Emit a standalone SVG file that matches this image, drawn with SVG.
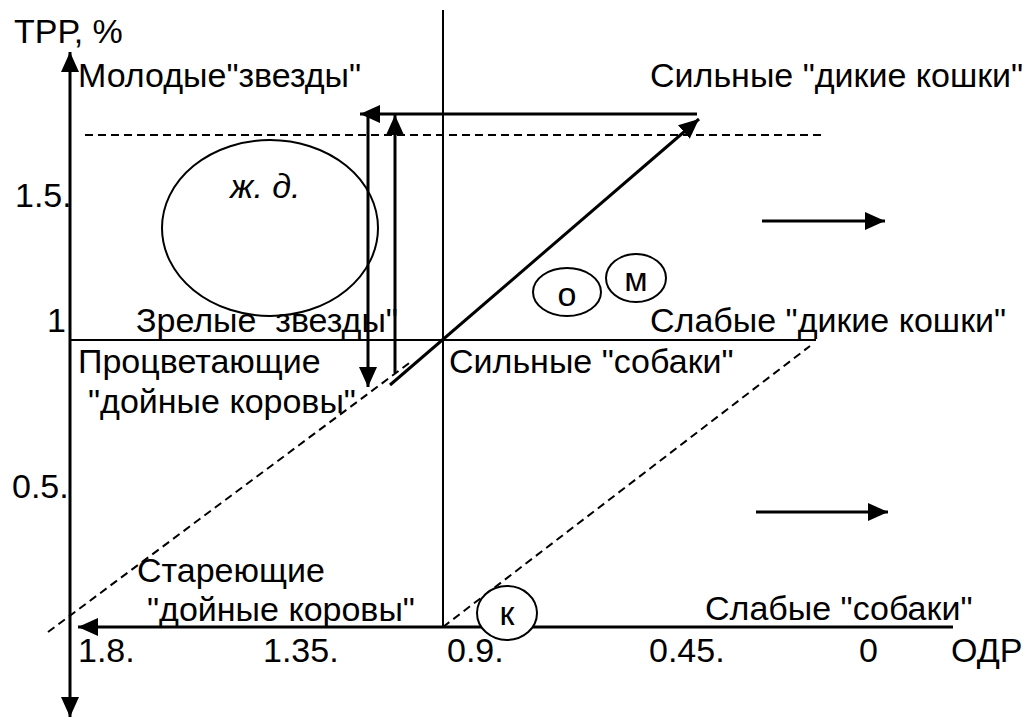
<svg xmlns="http://www.w3.org/2000/svg" width="1029" height="718" viewBox="0 0 1029 718">
<defs>
<style>
text{font-family:"Liberation Sans",Arial,sans-serif;font-size:34px;fill:#000}
.it{font-style:italic}
.mid{text-anchor:middle}
.ln{stroke:#000;fill:none}
.ax{stroke-width:3}
.thin{stroke-width:2}
.dash{stroke-width:2;stroke-dasharray:8 5}
.arr{stroke-width:3;marker-end:url(#ah)}
.ell{fill:#fff;stroke:#000;stroke-width:2}
</style>
<marker id="ah" viewBox="0 0 20 18" refX="20" refY="9" markerWidth="20" markerHeight="18" markerUnits="userSpaceOnUse" orient="auto">
<path d="M0,0 L20,9 L0,18 Z" fill="#000"/>
</marker>
</defs>
<rect width="1029" height="718" fill="#fff"/>
<g id="connectors">
<line class="ln dash" x1="85" y1="135" x2="822" y2="135"/>
<line class="ln dash" x1="48" y1="632" x2="412" y2="361"/>
<line class="ln dash" x1="443" y1="627" x2="810" y2="346"/>
<line class="ln thin" x1="443" y1="10" x2="443" y2="627"/>
<line class="ln thin" x1="70" y1="340" x2="816" y2="340"/>
<line class="ln ax" x1="70" y1="360" x2="70" y2="52" style="marker-end:url(#ah)"/>
<line class="ln ax" x1="70" y1="360" x2="70" y2="717" style="marker-end:url(#ah)"/>
<line class="ln arr" x1="953" y1="627" x2="78" y2="627"/>
<line class="ln arr" x1="697" y1="114" x2="360" y2="114"/>
<line class="ln arr" x1="368" y1="113" x2="368" y2="387"/>
<line class="ln arr" x1="395" y1="373" x2="395" y2="115"/>
<line class="ln arr" x1="390" y1="385" x2="699" y2="119"/>
<line class="ln arr" x1="762" y1="221" x2="885" y2="221"/>
<line class="ln arr" x1="756" y1="512" x2="888" y2="512"/>
</g>
<g id="node-zhd">
<ellipse class="ln thin" cx="270" cy="228" rx="108" ry="88"/>
<text class="it" x="230" y="198">ж. д.</text>
</g>
<g id="node-o">
<ellipse class="ell" cx="567" cy="292" rx="34" ry="24"/>
<text class="mid" x="567" y="306">о</text>
</g>
<g id="node-m">
<ellipse class="ell" cx="636" cy="278" rx="30" ry="24"/>
<text class="mid" x="636" y="291">м</text>
</g>
<g id="node-k">
<ellipse class="ell" cx="507" cy="613" rx="30" ry="27"/>
<text class="mid" x="507" y="625">к</text>
</g>
<g id="labels">
<text x="14" y="43">ТРР, %</text>
<text x="78" y="87">Молодые"звезды"</text>
<text x="650" y="87">Сильные "дикие кошки"</text>
<text x="15" y="207">1.5.</text>
<text x="47" y="332">1</text>
<text x="136" y="332" style="white-space:pre">Зрелые  звезды"</text>
<text x="650" y="332">Слабые "дикие кошки"</text>
<text x="78" y="373">Процветающие</text>
<text x="449" y="373">Сильные "собаки"</text>
<text x="88" y="413">"дойные коровы"</text>
<text x="12" y="498">0.5.</text>
<text x="137" y="582">Стареющие</text>
<text x="147" y="621">"дойные коровы"</text>
<text x="705" y="620">Слабые "собаки"</text>
<text x="78" y="662">1.8.</text>
<text x="263" y="662">1.35.</text>
<text x="447" y="662">0.9.</text>
<text x="649" y="662">0.45.</text>
<text x="859" y="662">0</text>
<text x="951" y="662">ОДР</text>
</g>
</svg>
